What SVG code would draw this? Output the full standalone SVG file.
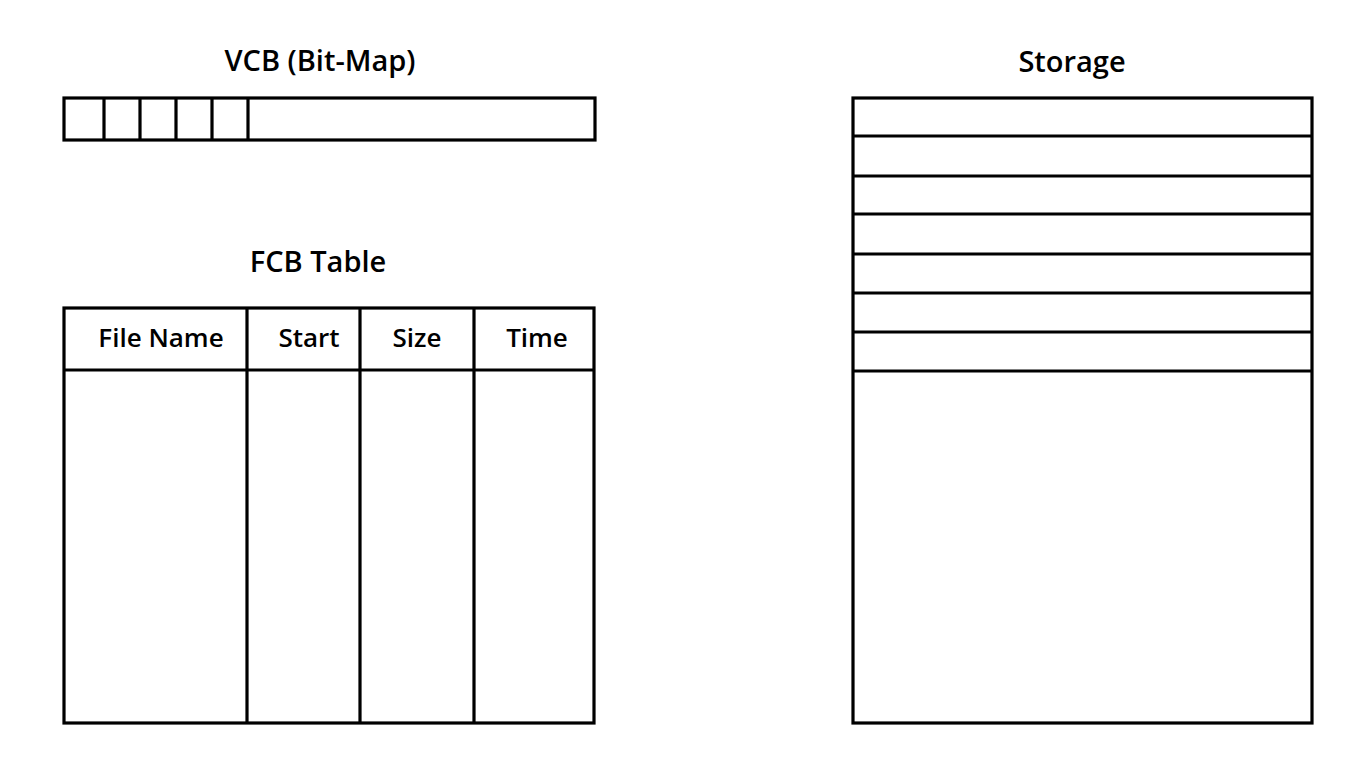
<svg xmlns="http://www.w3.org/2000/svg" width="1370" height="758" viewBox="0 0 1370 758">
<style>
.box{fill:#fff;stroke:#000;stroke-width:3.2}
.ln{stroke:#000;stroke-width:3.2;fill:none}
.title{font-family:"Open Sans","Noto Sans","Liberation Sans",sans-serif;font-size:29px;font-weight:600;fill:#000;text-anchor:middle}
.hdr{font-family:"Open Sans","Noto Sans","Liberation Sans",sans-serif;font-size:26px;font-weight:600;fill:#000;text-anchor:middle}
</style>
<rect width="1370" height="758" fill="#fff"/>
<g id="vcb">
<text class="title" x="320" y="71">VCB (Bit-Map)</text>
<rect class="box" x="64" y="98" width="531" height="42"/>
<path class="ln" d="M104,98V140M140,98V140M176,98V140M212,98V140M248,98V140"/>
</g>
<g id="fcb">
<text class="title" x="318" y="272">FCB Table</text>
<rect class="box" x="64" y="308" width="530" height="415"/>
<path class="ln" d="M64,370H594M247,308V723M360,308V723M474,308V723"/>
<text class="hdr" x="161" y="347">File Name</text>
<text class="hdr" x="309" y="347">Start</text>
<text class="hdr" x="417" y="347">Size</text>
<text class="hdr" x="537" y="347">Time</text>
</g>
<g id="storage">
<text class="title" x="1072" y="72">Storage</text>
<rect class="box" x="853" y="98" width="459" height="625"/>
<path class="ln" d="M853,136H1312M853,176H1312M853,214H1312M853,254H1312M853,293H1312M853,332H1312M853,371H1312"/>
</g>
<g id="connectors"></g>
</svg>
